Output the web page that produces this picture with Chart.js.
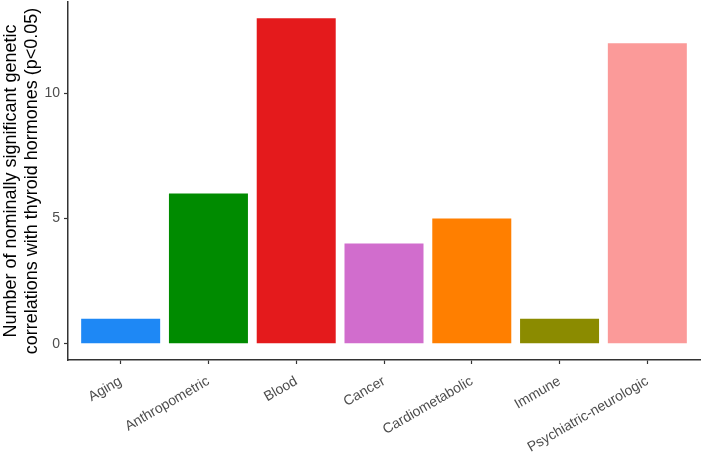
<!DOCTYPE html>
<html>
<head>
<meta charset="utf-8">
<script src="https://cdn.jsdelivr.net/npm/chart.js@4"></script>
<style>
  html, body { margin: 0; padding: 0; background: #fff; }
  #wrap { width: 702px; height: 460px; }
</style>
</head>
<body>
<div id="wrap"><canvas id="chart" width="702" height="460"></canvas></div>
<script>
// categories and counts
const categories = ['Aging', 'Anthropometric', 'Blood', 'Cancer', 'Cardiometabolic', 'Immune', 'Psychiatric-neurologic'];
const counts = [1, 6, 13, 4, 5, 1, 12];
const barColors = ['#1E88F5', '#008B00', '#E41A1C', '#D16DCD', '#FF7F00', '#8B8B00', '#FB9A99'];
const yTicks = [0, 5, 10];

const axisColor = '#333333';
const tickFont = { family: 'Liberation Sans, Arial, sans-serif', size: 14 };

new Chart(document.getElementById('chart'), {
    type: 'bar',
    data: {
        datasets: [{
            data: counts.map((v, i) => ({ x: i, y: v })),
            backgroundColor: barColors,
            borderWidth: 0,
            categoryPercentage: 0.9,
            barPercentage: 1
        }]
    },
    options: {
        responsive: false,
        animation: false,
        layout: { padding: { top: 2, right: 2, left: 0, bottom: 0 } },
        plugins: { legend: { display: false }, tooltip: { enabled: false } },
        scales: {
            x: {
                type: 'linear',
                offset: false,
                min: -0.6,
                max: categories.length - 0.4,
                afterBuildTicks: s => { s.ticks = categories.map((_, i) => ({ value: i })); },
                afterFit: s => { s.height = 100; s.paddingLeft = 0; s.paddingRight = 0; },
                border: { display: true, color: axisColor, width: 1.5 },
                grid: { offset: false, drawOnChartArea: false, drawTicks: true, tickLength: 4, color: axisColor, tickWidth: 1.2 },
                ticks: {
                    autoSkip: false,
                    minRotation: 30,
                    maxRotation: 30,
                    padding: 9,
                    color: '#4d4d4d',
                    font: tickFont,
                    callback: v => categories[v]
                }
            },
            y: {
                min: -0.65,
                max: 13.65,
                afterBuildTicks: s => { s.ticks = yTicks.map(v => ({ value: v })); },
                afterFit: s => { s.width = 68; s.paddingTop = 0; s.paddingBottom = 0; },
                border: { display: true, color: axisColor, width: 1.5 },
                grid: { drawOnChartArea: false, drawTicks: true, tickLength: 4, color: axisColor, tickWidth: 1.2 },
                ticks: { padding: 4, color: '#4d4d4d', font: tickFont },
                title: {
                    display: true,
                    text: ['Number of nominally significant genetic', 'correlations with thyroid hormones (p<0.05)'],
                    color: '#000',
                    font: { family: 'Liberation Sans, Arial, sans-serif', size: 18, lineHeight: 1.2 },
                    padding: { top: 0, bottom: 0 }
                }
            }
        }
    }
});
</script>
</body>
</html>
